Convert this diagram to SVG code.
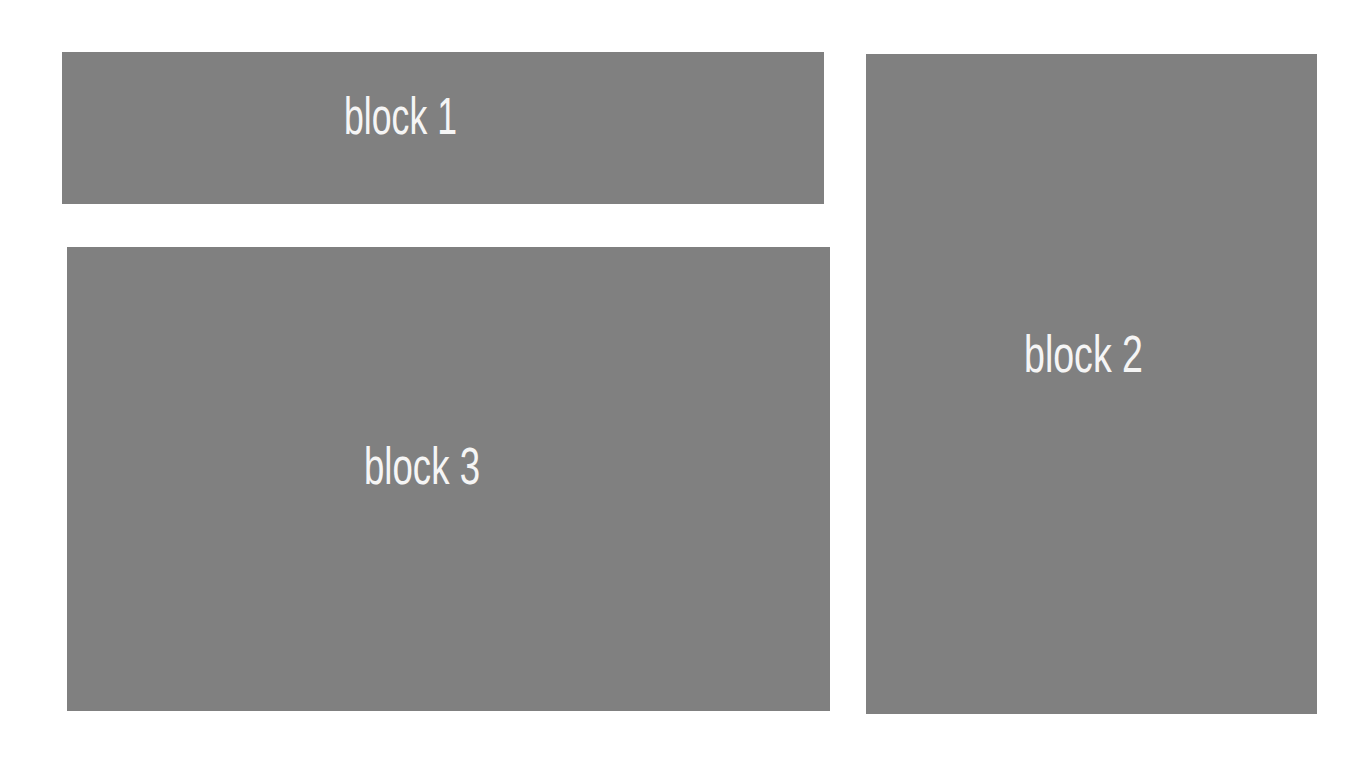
<svg xmlns="http://www.w3.org/2000/svg" width="1366" height="768" viewBox="0 0 1366 768">
<style>
.blk{fill:#808080}
.lbl{fill:#f5f5f5;font-family:"Liberation Sans Narrow","Liberation Sans",Arial,sans-serif;font-size:52px;text-anchor:start}
</style>
<rect width="1366" height="768" fill="#ffffff"/>
<g id="block1">
<rect class="blk" x="62" y="52" width="762" height="152"/>
<text class="lbl" x="344" y="134" textLength="113" lengthAdjust="spacingAndGlyphs">block 1</text>
</g>
<g id="block2">
<rect class="blk" x="866" y="54" width="451" height="660"/>
<text class="lbl" x="1024" y="372" textLength="119" lengthAdjust="spacingAndGlyphs">block 2</text>
</g>
<g id="block3">
<rect class="blk" x="67" y="247" width="763" height="464"/>
<text class="lbl" x="364" y="484" textLength="116" lengthAdjust="spacingAndGlyphs">block 3</text>
</g>
<g id="connectors"></g>
</svg>
